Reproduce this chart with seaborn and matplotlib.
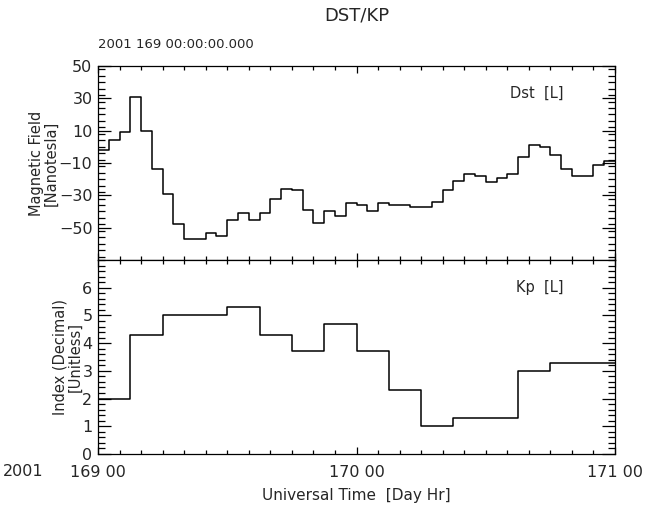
import matplotlib
matplotlib.use("Agg")
import matplotlib.pyplot as plt
import seaborn as sns
import pandas as pd
import numpy as np
from matplotlib.ticker import MultipleLocator, FixedLocator

# ---- data ----
dst_hours = list(range(48))
dst_values = [-2, 4, 9, 31, 10, -14, -29, -48, -57, -57, -53, -55, -45, -41, -45, -41,
              -32, -26, -27, -39, -47, -40, -43, -35, -36, -40, -35, -36, -36, -37, -37, -34,
              -27, -21, -17, -18, -22, -19, -17, -6, 1, 0, -5, -14, -18, -18, -11, -9]
kp_hours = list(range(0, 48, 3))
kp_values = [2.0, 4.3, 5.0, 5.0, 5.3, 4.3, 3.7, 4.7, 3.7, 2.3, 1.0, 1.3, 1.3, 3.0, 3.3, 3.3]
x_tick_hours = [0, 24, 48]
x_tick_labels = ["169 00", "170 00", "171 00"]
dst_ticks = [50, 30, 10, -10, -30, -50]
kp_ticks = [0, 1, 2, 3, 4, 5, 6]

sns.set_style("ticks")
plt.rcParams["font.family"] = ["DejaVu Sans"]

dst_df = pd.DataFrame({"t": dst_hours + [48], "v": dst_values + [dst_values[-1]]})
kp_df = pd.DataFrame({"t": kp_hours + [48], "v": kp_values + [kp_values[-1]]})

fig = plt.figure(figsize=(6.54, 5.11), dpi=100)
L, R = 98 / 654, 615 / 654
ax1 = fig.add_axes([L, 1 - 260 / 511, R - L, 194 / 511])
ax2 = fig.add_axes([L, 1 - 454 / 511, R - L, 194 / 511])

sns.lineplot(data=dst_df, x="t", y="v", ax=ax1, color="black", linewidth=1.1,
             drawstyle="steps-post", estimator=None, sort=False)
sns.lineplot(data=kp_df, x="t", y="v", ax=ax2, color="black", linewidth=1.1,
             drawstyle="steps-post", estimator=None, sort=False)

ax1.set_ylim(-70, 50)
ax2.set_ylim(0, 7)
for ax in (ax1, ax2):
    ax.set_xlim(0, 48)
    ax.xaxis.set_major_locator(FixedLocator(x_tick_hours))
    ax.xaxis.set_minor_locator(MultipleLocator(2))
    ax.tick_params(axis="both", which="both", direction="in", top=True, right=True,
                   labelsize=11.5, width=0.9, color="black")
    ax.tick_params(axis="y", which="major", length=9.5, pad=4)
    ax.tick_params(axis="y", which="minor", length=5)
    ax.tick_params(axis="x", which="major", length=5)
    ax.tick_params(axis="x", which="minor", length=3)
    for s in ax.spines.values():
        s.set_linewidth(0.9)
        s.set_color("black")
    ax.set_xlabel("")

ax1.yaxis.set_major_locator(FixedLocator(dst_ticks))
ax1.yaxis.set_minor_locator(MultipleLocator(4))
ax1.set_xticklabels([])
ax1.set_ylabel("Magnetic Field\n[Nanotesla]", fontsize=10.5, labelpad=0, linespacing=1.0)

ax2.yaxis.set_major_locator(FixedLocator(kp_ticks))
ax2.yaxis.set_minor_locator(MultipleLocator(0.2))
ax2.set_xticklabels(x_tick_labels)
ax2.tick_params(axis="x", pad=8)
ax2.set_ylabel("Index (Decimal)\n[Unitless]", fontsize=10.5, labelpad=0, linespacing=1.0)

ax1.text(0.90, 0.86, "Dst  [L]", transform=ax1.transAxes, ha="right", va="center", fontsize=10.5)
ax2.text(0.90, 0.86, "Kp  [L]", transform=ax2.transAxes, ha="right", va="center", fontsize=10.5)

fig.text(356.5 / 654, 1 - 16 / 511, "DST/KP", ha="center", va="center", fontsize=13)
fig.text(98 / 654, 1 - 45 / 511, "2001 169 00:00:00.000", ha="left", va="center", fontsize=9.5)
fig.text(3 / 654, 1 - 472 / 511, "2001", ha="left", va="center", fontsize=11.5)
fig.text(356.5 / 654, 1 - 495 / 511, "Universal Time  [Day Hr]", ha="center", va="center", fontsize=11)

fig.savefig("out.png", dpi=100)
